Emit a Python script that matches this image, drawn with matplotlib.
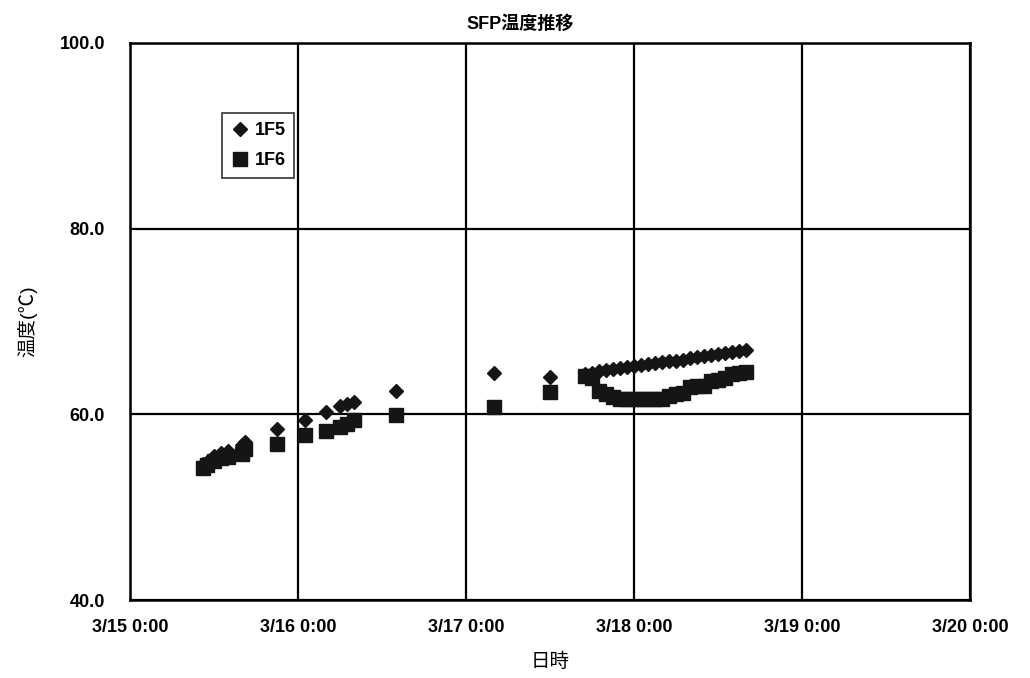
import pandas as pd
import matplotlib
matplotlib.use("Agg")
import matplotlib.pyplot as plt
import matplotlib.dates as mdates
from matplotlib.ticker import FuncFormatter

plt.rcParams['font.family'] = ['Liberation Sans', 'Noto Sans CJK JP', 'DejaVu Sans']
plt.rcParams['font.weight'] = 'bold'

# sample times (2011), shared by both pools
times = pd.to_datetime([
    "2011-03-15 10:30", "2011-03-15 11:00", "2011-03-15 12:00", "2011-03-15 13:00", "2011-03-15 14:00",
    "2011-03-15 16:00", "2011-03-15 16:30",
    "2011-03-15 21:00",
    "2011-03-16 01:00", "2011-03-16 04:00",
    "2011-03-16 06:00", "2011-03-16 07:00", "2011-03-16 08:00",
    "2011-03-16 14:00",
    "2011-03-17 04:00", "2011-03-17 12:00",
    "2011-03-17 17:00", "2011-03-17 18:00", "2011-03-17 19:00", "2011-03-17 20:00",
    "2011-03-17 21:00", "2011-03-17 22:00", "2011-03-17 23:00", "2011-03-18 00:00",
    "2011-03-18 01:00", "2011-03-18 02:00", "2011-03-18 03:00", "2011-03-18 04:00",
    "2011-03-18 05:00", "2011-03-18 06:00", "2011-03-18 07:00", "2011-03-18 08:00",
    "2011-03-18 09:00", "2011-03-18 10:00", "2011-03-18 11:00", "2011-03-18 12:00",
    "2011-03-18 13:00", "2011-03-18 14:00", "2011-03-18 15:00", "2011-03-18 16:00",
])

temp_1f5 = [54.6, 54.9, 55.5, 55.8, 56.0,
            56.7, 57.0,
            58.4,
            59.4, 60.2,
            60.9, 61.1, 61.3,
            62.5,
            64.5, 64.0,
            64.3, 64.5, 64.7, 64.8, 64.9, 65.0, 65.1, 65.2,
            65.3, 65.4, 65.5, 65.6, 65.7, 65.8, 65.9, 66.1,
            66.2, 66.3, 66.4, 66.5, 66.6, 66.7, 66.8, 66.9]

temp_1f6 = [54.2, 54.5, 55.0, 55.3, 55.4,
            55.7, 56.3,
            56.8,
            57.8, 58.2,
            58.6, 59.0, 59.4,
            59.9,
            60.8, 62.4,
            64.1, 63.9, 62.5, 62.2, 61.9, 61.7, 61.6, 61.6,
            61.6, 61.6, 61.6, 61.7, 62.0, 62.2, 62.3, 62.9,
            63.0, 63.1, 63.6, 63.7, 63.9, 64.3, 64.5, 64.6]

y_ticks = [40, 60, 80, 100]
x_start = pd.Timestamp("2011-03-15 00:00")
x_end = pd.Timestamp("2011-03-20 00:00")

fig = plt.figure(figsize=(10.30, 6.78), dpi=100)
ax = fig.add_axes([0.1262, 0.1150, 0.8155, 0.8216])

ax.plot(times, temp_1f5, linestyle='none', marker='D', markersize=7.5,
        color='#151515', label='1F5', zorder=3)
ax.plot(times, temp_1f6, linestyle='none', marker='s', markersize=9.5,
        color='#151515', label='1F6', zorder=4)

ax.set_xlim(x_start, x_end)
ax.set_ylim(40, 100)
ax.set_yticks(y_ticks)
ax.yaxis.set_major_formatter(FuncFormatter(lambda v, p: f"{v:.1f}"))
ax.xaxis.set_major_locator(mdates.DayLocator())
ax.xaxis.set_major_formatter(FuncFormatter(
    lambda v, p: (lambda d: f"{d.month}/{d.day} {d.hour}:{d.minute:02d}")(mdates.num2date(v))))

ax.grid(True, color='black', linewidth=1.6)
ax.set_axisbelow(True)
for s in ax.spines.values():
    s.set_linewidth(1.8)
ax.tick_params(length=0, labelsize=13, pad=14)
ax.tick_params(axis='y', pad=18)

ax.set_xlabel("日時", fontsize=14, labelpad=12)
ax.set_ylabel("温度(℃)", fontsize=14, labelpad=16)
fig.text(0.505, 0.965, "SFP温度推移", ha='center', va='center', fontsize=13, fontweight='bold')

leg = ax.legend(loc='upper left', bbox_to_anchor=(0.1095, 0.874), borderaxespad=0,
                fontsize=13, frameon=True, fancybox=False, edgecolor='black',
                handletextpad=0.3, handlelength=1.0, borderpad=0.5, labelspacing=0.7)
leg.get_frame().set_linewidth(1.2)

fig.savefig("out.png", dpi=100)
